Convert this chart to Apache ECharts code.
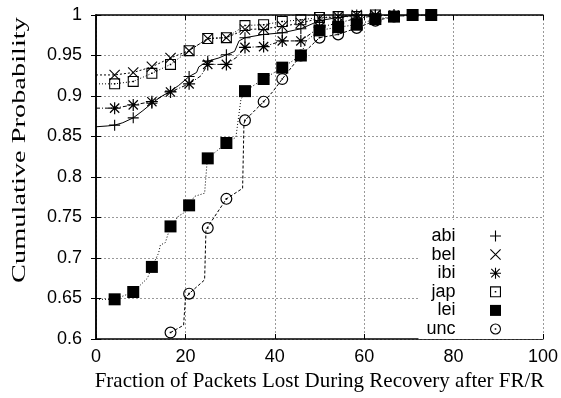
<!DOCTYPE html>
<html>
<head>
<meta charset="utf-8">
<script src="https://cdn.jsdelivr.net/npm/echarts@6/dist/echarts.min.js"></script>
<style>
  html, body { margin: 0; padding: 0; background: #fff; }
  #chart { width: 561px; height: 398px; }
</style>
</head>
<body>
<div id="chart"></div>
<script>
// Tick labels
const xTickLabels = ['0', '20', '40', '60', '80', '100'];
const yTickLabels = ['0.6', '0.65', '0.7', '0.75', '0.8', '0.85', '0.9', '0.95', '1'];

// Loss fractions (%) where the sample points sit
const markX = [4.17, 8.33, 12.5, 16.67, 20.83, 25, 29.17, 33.33, 37.5, 41.67, 45.83, 50, 54.17, 58.33, 62.5, 66.67, 70.83, 75];

// Cumulative probability at each sample point, per site
const abiPts = [0.864, 0.873, 0.891, 0.906, 0.924, 0.943, 0.951, 0.972, 0.976, 0.978, 0.983, 0.993, 0.997, 1.0, 1.0];
const belPts = [0.926, 0.929, 0.936, 0.947, 0.956, 0.971, 0.972, 0.982, 0.983, 0.986, 0.990, 0.996, 0.998, 1.0, 1.0];
const ibiPts = [0.885, 0.889, 0.893, 0.905, 0.915, 0.939, 0.939, 0.960, 0.961, 0.968, 0.968, 0.985, 0.990, 0.996, 0.999, 1.0];
const japPts = [0.915, 0.918, 0.928, 0.939, 0.956, 0.971, 0.972, 0.987, 0.988, 0.992, 0.994, 0.997, 0.998, 0.998, 1.0];
const leiPts = [0.649, 0.658, 0.689, 0.739, 0.765, 0.823, 0.842, 0.906, 0.921, 0.935, 0.950, 0.981, 0.985, 0.988, 0.995, 0.998, 1.0, 1.0];
const uncPts = [null, null, null, 0.608, 0.656, 0.737, 0.773, 0.870, 0.893, 0.921, 0.950, 0.972, 0.976, 0.984, 0.993, 0.998, 1.0, 1.0];

// Full empirical curves (x, y), including the steps between sample points
const abiCurveX = [0, 2.5, 4.17, 6, 8.33, 10.5, 12.5, 14.5, 16.67, 18.5, 20.83, 22.5, 23, 25, 27.5, 29.17, 31, 32, 33.33, 37.5, 41.67, 45.83, 50, 54.17, 58.33, 62.5];
const abiCurveY = [0.862, 0.863, 0.864, 0.867, 0.873, 0.882, 0.891, 0.899, 0.906, 0.913, 0.924, 0.929, 0.936, 0.943, 0.947, 0.951, 0.955, 0.968, 0.972, 0.976, 0.978, 0.983, 0.993, 0.997, 1.0, 1.0];
const belCurveX = [0, 4.17, 8.33, 12.5, 16.67, 20.83, 25, 29.17, 33.33, 37.5, 41.67, 45.83, 50, 54.17, 58.33, 62.5];
const belCurveY = [0.926, 0.926, 0.929, 0.936, 0.947, 0.956, 0.971, 0.972, 0.982, 0.983, 0.986, 0.990, 0.996, 0.998, 1.0, 1.0];
const ibiCurveX = [0, 4.17, 8.33, 12.5, 16.67, 20.83, 23.5, 25, 29.17, 31.5, 33.33, 37.5, 41.67, 45.83, 50, 54.17, 58.33, 62.5, 66.67];
const ibiCurveY = [0.885, 0.885, 0.889, 0.893, 0.905, 0.915, 0.925, 0.939, 0.939, 0.948, 0.960, 0.961, 0.968, 0.968, 0.985, 0.990, 0.996, 0.999, 1.0];
const japCurveX = [0, 4.17, 8.33, 12.5, 16.67, 20.83, 25, 29.17, 33.33, 37.5, 41.67, 45.83, 50, 54.17, 58.33, 62.5];
const japCurveY = [0.915, 0.915, 0.918, 0.928, 0.939, 0.956, 0.971, 0.972, 0.987, 0.988, 0.992, 0.994, 0.997, 0.998, 0.998, 1.0];
const leiCurveX = [0, 4.17, 8.33, 10, 11.5, 12.5, 14, 14.4, 15.5, 16.67, 18.5, 19.5, 20.83, 22, 24.3, 24.8, 25, 29.17, 31.3, 32.4, 33.33, 37.5, 41.67, 45.83, 47, 50, 54.17, 58.33, 62.5, 66.67, 70.83, 75];
const leiCurveY = [0.649, 0.649, 0.658, 0.667, 0.675, 0.689, 0.706, 0.716, 0.719, 0.739, 0.752, 0.755, 0.765, 0.776, 0.780, 0.815, 0.823, 0.842, 0.849, 0.895, 0.906, 0.921, 0.935, 0.950, 0.968, 0.981, 0.985, 0.988, 0.995, 0.998, 1.0, 1.0];
const uncCurveX = [16.67, 19.6, 20, 20.83, 24.3, 24.6, 25, 27, 29.17, 32.8, 33.1, 33.33, 37.5, 39.5, 41.67, 45.83, 50, 54.17, 58.33, 62.5, 66.67, 70.83, 75];
const uncCurveY = [0.608, 0.617, 0.650, 0.656, 0.673, 0.735, 0.737, 0.755, 0.773, 0.786, 0.866, 0.870, 0.893, 0.905, 0.921, 0.950, 0.972, 0.976, 0.984, 0.993, 0.998, 1.0, 1.0];

// Point glyphs
const SYM_PLUS = 'path://M0,4.5H10V5.5H0Z M4.5,0H5.5V10H4.5Z';
const SYM_CROSS = 'path://M0,0.7L0.7,0L10,9.3L9.3,10Z M9.3,0L10,0.7L0.7,10L0,9.3Z';
const SYM_STAR = 'path://M0,4.5H10V5.5H0Z M4.5,0H5.5V10H4.5Z M0.8,1.5L1.5,0.8L9.2,8.5L8.5,9.2Z M8.5,0.8L9.2,1.5L1.5,9.2L0.8,8.5Z';
const SYM_BOXDOT = 'path://M0,0H10V10H0Z M1,1V9H9V1Z M4.3,4.3H5.7V5.7H4.3Z';
const SYM_BOX = 'path://M0,0H10V10H0Z';
const SYM_CIRCDOT = 'path://M5,0A5,5 0 1,1 5,10A5,5 0 1,1 5,0Z M5,1A4,4 0 1,0 5,9A4,4 0 1,0 5,1Z M4.3,4.3H5.7V5.7H4.3Z';

const sites = [
  { name: 'abi', pts: abiPts, cx: abiCurveX, cy: abiCurveY, symbol: SYM_PLUS, size: 11, dash: 'solid' },
  { name: 'bel', pts: belPts, cx: belCurveX, cy: belCurveY, symbol: SYM_CROSS, size: 11, dash: [2, 2] },
  { name: 'ibi', pts: ibiPts, cx: ibiCurveX, cy: ibiCurveY, symbol: SYM_STAR, size: 12, dash: [4, 2, 1, 2] },
  { name: 'jap', pts: japPts, cx: japCurveX, cy: japCurveY, symbol: SYM_BOXDOT, size: 11, dash: [1, 2] },
  { name: 'lei', pts: leiPts, cx: leiCurveX, cy: leiCurveY, symbol: SYM_BOX, size: 12, dash: [1, 2] },
  { name: 'unc', pts: uncPts, cx: uncCurveX, cy: uncCurveY, symbol: SYM_CIRCDOT, size: 12, dash: [3, 2] }
];

const sans = 'Liberation Sans';
const serif = 'Liberation Serif';
const xMin = 0, xMax = 100, xStep = 20;
const yMin = 0.6, yMax = 1, yStep = 0.05;

const series = [];
sites.forEach(s => {
  series.push({
    name: s.name + ' curve',
    type: 'line',
    data: s.cx.map((x, i) => [x, s.cy[i]]),
    showSymbol: false,
    symbol: 'none',
    silent: true,
    z: 2,
    lineStyle: { color: '#000', width: 1, type: s.dash },
    animation: false
  });
});
sites.forEach(s => {
  const pts = [];
  s.pts.forEach((y, i) => { if (y !== null) pts.push([markX[i], y]); });
  series.push({
    name: s.name,
    type: 'scatter',
    data: pts,
    symbol: s.symbol,
    symbolSize: s.size,
    z: 3,
    itemStyle: { color: '#000', opacity: 1 },
    animation: false
  });
});

const tickStyle = { show: true, inside: true, length: 5, lineStyle: { color: '#000', width: 1 } };
const lineStyleAxis = { show: true, lineStyle: { color: '#000', width: 1.5 } };
const gridLine = { show: true, lineStyle: { color: '#999', width: 1, type: [2, 2] } };

const chart = echarts.init(document.getElementById('chart'), null, { renderer: 'canvas' });
chart.setOption({
  animation: false,
  backgroundColor: '#fff',
  grid: { left: 96, right: 16, top: 15, bottom: 59, containLabel: false },
  // Vertical axis title, stretched along its length
  graphic: [{
    type: 'text',
    x: 20, y: 150,
    rotation: Math.PI / 2,
    scaleX: 1.42, scaleY: 0.9,
    style: {
      text: 'Cumulative Probability',
      font: '20px "Liberation Serif"',
      fill: '#000',
      align: 'center',
      verticalAlign: 'middle'
    }
  }],
  xAxis: [
    {
      type: 'value', min: xMin, max: xMax, interval: xStep, position: 'bottom',
      name: 'Fraction of Packets Lost During Recovery after FR/R',
      nameLocation: 'middle', nameGap: 32,
      nameTextStyle: { fontFamily: serif, fontSize: 21, color: '#000' },
      axisLine: lineStyleAxis, axisTick: tickStyle, splitLine: gridLine,
      axisLabel: {
        fontFamily: sans, fontSize: 18, color: '#000', margin: 9,
        formatter: v => xTickLabels[Math.round((v - xMin) / xStep)]
      }
    },
    {
      type: 'value', min: xMin, max: xMax, interval: xStep, position: 'top', z: 5,
      axisLine: lineStyleAxis, axisTick: tickStyle, splitLine: { show: false },
      axisLabel: { show: false }
    }
  ],
  yAxis: [
    {
      type: 'value', min: yMin, max: yMax, interval: yStep, position: 'left',
      axisLine: lineStyleAxis, axisTick: tickStyle, splitLine: gridLine,
      axisLabel: {
        fontFamily: sans, fontSize: 18, color: '#000', margin: 14,
        formatter: v => yTickLabels[Math.round((v - yMin) / yStep)]
      }
    },
    {
      type: 'value', min: yMin, max: yMax, interval: yStep, position: 'right', z: 5,
      axisLine: lineStyleAxis, axisTick: tickStyle, splitLine: { show: false },
      axisLabel: { show: false }
    }
  ],
  legend: {
    data: sites.map(s => s.name),
    orient: 'vertical',
    align: 'right',
    right: 18,
    top: 220,
    itemWidth: 70,
    itemHeight: 11,
    itemGap: 0.6,
    padding: [7, 42, 1, 8],
    backgroundColor: '#fff',
    selectedMode: false,
    textStyle: { fontFamily: sans, fontSize: 18, color: '#000', lineHeight: 18 },
    itemStyle: { color: '#000' }
  },
  series: series
});
</script>
</body>
</html>
